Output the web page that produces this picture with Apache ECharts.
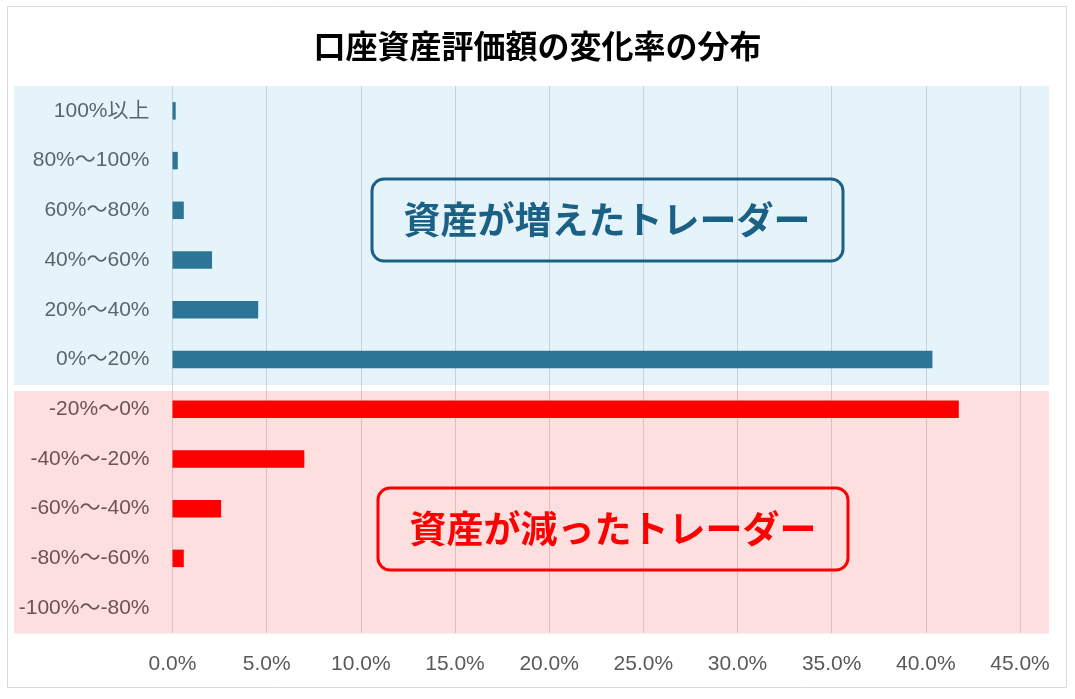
<html>
<head>
<meta charset="utf-8">
<script src="https://cdn.jsdelivr.net/npm/echarts@6/dist/echarts.min.js"></script>
<style>
    body { margin: 0; padding: 0; background: #ffffff; }
    #content { width: 1075px; height: 699px; }
</style>
</head>
<body>
<div id="content"></div>
<script type="text/javascript">
    // categories, top to bottom
    var categories = ['100%以上', '80%～100%', '60%～80%', '40%～60%', '20%～40%', '0%～20%',
        '-20%～0%', '-40%～-20%', '-60%～-40%', '-80%～-60%', '-100%～-80%'];
    // share of traders (%)
    var gainValues = [0.17, 0.28, 0.6, 2.1, 4.55, 40.35, null, null, null, null, null];
    var lossValues = [null, null, null, null, null, null, 41.75, 7.0, 2.58, 0.6, 0];
    var xTicks = { min: 0, max: 45, interval: 5 };

    var labelFont = "'Liberation Sans', 'Noto Sans CJK JP', sans-serif";
    var jpFont = "'Noto Sans CJK JP', sans-serif";

    var chart = echarts.init(document.getElementById('content'));

    const option = {
        animation: false,
        backgroundColor: '#ffffff',
        title: {
            text: '口座資産評価額の変化率の分布',
            left: 'center',
            top: 25,
            textStyle: { fontFamily: jpFont, fontSize: 32, fontWeight: 'bold', color: '#000000' }
        },
        grid: { left: 172.5, right: 55, top: 86, bottom: 66 },
        xAxis: {
            type: 'value',
            min: xTicks.min,
            max: xTicks.max,
            interval: xTicks.interval,
            axisLine: { show: false },
            axisTick: { show: false },
            splitLine: { lineStyle: { color: '#d9d9d9', width: 1 } },
            axisLabel: {
                margin: 21,
                color: '#595959',
                fontSize: 21,
                fontFamily: labelFont,
                formatter: function (v) { return v.toFixed(1) + '%'; }
            }
        },
        yAxis: {
            type: 'category',
            inverse: true,
            data: categories,
            axisLine: { show: false },
            axisTick: { show: false },
            axisLabel: { margin: 23, color: '#595959', fontSize: 21, fontFamily: labelFont }
        },
        series: [{
            name: 'gain',
            type: 'bar',
            stack: 'all',
            barWidth: 17.5,
            z: 5,
            itemStyle: { color: '#2c7596' },
            data: gainValues
        }, {
            name: 'loss',
            type: 'bar',
            stack: 'all',
            barWidth: 17.5,
            z: 5,
            itemStyle: { color: '#ff0000' },
            data: lossValues
        }],
        graphic: [
            // outer frame
            { type: 'rect', z: 0, silent: true, shape: { x: 7.5, y: 6.5, width: 1059, height: 681 },
              style: { fill: 'none', stroke: '#d9d9d9', lineWidth: 1 } },
            // tinted bands (over labels and grid lines, under the bars)
            { type: 'rect', z: 1, silent: true, shape: { x: 14, y: 86, width: 1035, height: 299 },
              style: { fill: 'rgba(82,182,228,0.15)' } },
            { type: 'rect', z: 1, silent: true, shape: { x: 14, y: 391, width: 1035, height: 242.5 },
              style: { fill: 'rgba(242,42,48,0.15)' } },
            // annotation boxes
            { type: 'rect', z: 10, silent: true, shape: { x: 372, y: 179, width: 471, height: 82, r: 12 },
              style: { fill: 'none', stroke: '#1b6085', lineWidth: 3 } },
            { type: 'text', z: 11, silent: true, x: 607, y: 220,
              style: { text: '資産が増えたトレーダー', fill: '#1b6085', font: 'bold 37px ' + jpFont,
                       align: 'center', verticalAlign: 'middle' } },
            { type: 'rect', z: 10, silent: true, shape: { x: 378, y: 488, width: 470, height: 82, r: 12 },
              style: { fill: 'none', stroke: '#ff0000', lineWidth: 3 } },
            { type: 'text', z: 11, silent: true, x: 613, y: 529,
              style: { text: '資産が減ったトレーダー', fill: '#ff0000', font: 'bold 37px ' + jpFont,
                       align: 'center', verticalAlign: 'middle' } }
        ]
    };
    chart.setOption(option);
</script>
</body>
</html>
